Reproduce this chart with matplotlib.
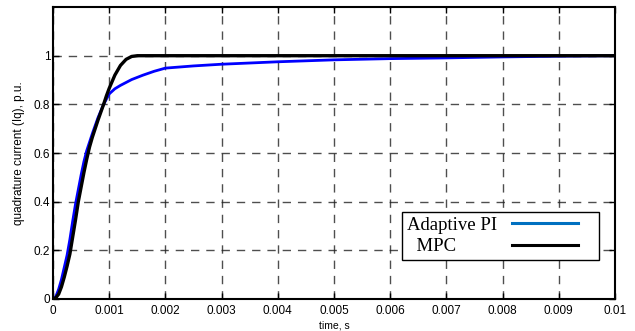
import matplotlib
matplotlib.use("Agg")
import matplotlib.pyplot as plt
from matplotlib.lines import Line2D

# time in seconds
t_mpc = [0, 0.00005, 0.0001, 0.00015, 0.0002, 0.00025, 0.0003, 0.00035, 0.0004, 0.00045,
         0.0005, 0.00055, 0.0006, 0.00065, 0.0007, 0.0008, 0.0009, 0.00095, 0.001, 0.0011,
         0.0012, 0.0013, 0.0014, 0.0015, 0.0016, 0.002, 0.003, 0.004, 0.005, 0.006,
         0.007, 0.008, 0.009, 0.01]
i_mpc = [0, 0.005, 0.02, 0.05, 0.09, 0.135, 0.185, 0.255, 0.325, 0.40,
         0.46, 0.52, 0.575, 0.625, 0.665, 0.735, 0.80, 0.835, 0.866, 0.92,
         0.96, 0.985, 0.997, 1.0, 1.0, 1.0, 1.0, 1.0, 1.0, 1.0,
         1.0, 1.0, 1.0, 1.0]

t_pi = [0, 0.00005, 0.0001, 0.00015, 0.0002, 0.00025, 0.0003, 0.00035, 0.0004, 0.00045,
        0.0005, 0.00055, 0.0006, 0.0007, 0.0008, 0.0009, 0.001, 0.0011, 0.0012, 0.0013,
        0.0014, 0.0015, 0.0016, 0.0018, 0.002, 0.0025, 0.003, 0.004, 0.005, 0.006,
        0.007, 0.008, 0.009, 0.01]
i_pi = [0, 0.01, 0.04, 0.08, 0.13, 0.18, 0.245, 0.32, 0.39, 0.45,
        0.51, 0.565, 0.61, 0.68, 0.745, 0.80, 0.843, 0.864, 0.878, 0.89,
        0.902, 0.911, 0.92, 0.936, 0.949, 0.958, 0.965, 0.975, 0.983, 0.988,
        0.991, 0.995, 0.998, 1.0]

xticks = [0, 0.001, 0.002, 0.003, 0.004, 0.005, 0.006, 0.007, 0.008, 0.009, 0.01]
xticklabels = ["0", "0.001", "0.002", "0.003", "0.004", "0.005", "0.006", "0.007", "0.008", "0.009", "0.01"]
yticks = [0, 0.2, 0.4, 0.6, 0.8, 1.0]
yticklabels = ["0", "0.2", "0.4", "0.6", "0.8", "1"]
legend_labels = ["Adaptive PI", "  MPC"]

fig = plt.figure(figsize=(6.35, 3.31), dpi=100)
ax = fig.add_axes([0.0835, 0.0967, 0.885, 0.882])

ax.plot(t_pi, i_pi, color="#0000ff", lw=2.0)
ax.plot(t_mpc, i_mpc, color="black", lw=2.4)

ax.set_xlim(0, 0.01)
ax.set_ylim(0, 1.2)
ax.set_xticks(xticks)
ax.set_xticklabels(xticklabels, fontsize=8.5, family="Liberation Sans")
ax.set_yticks(yticks)
ax.set_yticklabels(yticklabels, fontsize=8.5, family="Liberation Sans")
ax.tick_params(direction="in", top=True, right=True, length=4, width=1, pad=2)
ax.tick_params(axis="x", pad=4)
ax.grid(True, color="#222222", linestyle=(0, (6, 5)), linewidth=1.0, alpha=0.8)
for s in ax.spines.values():
    s.set_linewidth(1.5)

ax.set_xlabel("time, s", fontsize=7.5, family="Liberation Sans", labelpad=3)
ax.set_ylabel("quadrature current (Iq), p.u.", fontsize=8.5, family="Liberation Sans", labelpad=6)

handles = [Line2D([0], [0], color="#0070C0", lw=2.2),
           Line2D([0], [0], color="black", lw=2.2)]
leg = ax.legend(handles, legend_labels, loc="lower right",
                bbox_to_anchor=(0.9715, 0.1336), markerfirst=False,
                prop={"family": "Liberation Serif", "size": 13.5},
                frameon=True, fancybox=False, edgecolor="black",
                handlelength=4.4, handletextpad=0.8, borderpad=0.25,
                labelspacing=0.22, borderaxespad=0)
leg.get_frame().set_linewidth(1.0)
leg.get_frame().set_alpha(1)

# left-align legend text, keep handles at the right
fig.canvas.draw()
renderer = fig.canvas.get_renderer()
for col in leg._legend_handle_box.get_children():
    rows = col.get_children()
    W = max(r.get_bbox(renderer).width for r in rows)
    for r in rows:
        r.width = W
        r.mode = "expand"
    col.align = "left"
# shorten the legend lines (gap on the right, as in the reference)
for ln in leg.get_lines():
    xd = ln.get_xdata()
    x0, x1 = xd[0], xd[-1]
    xn = x0 + 0.8 * (x1 - x0)
    ln.set_xdata([x0, (x0 + xn) / 2, xn])

fig.savefig("out.png", dpi=100)
